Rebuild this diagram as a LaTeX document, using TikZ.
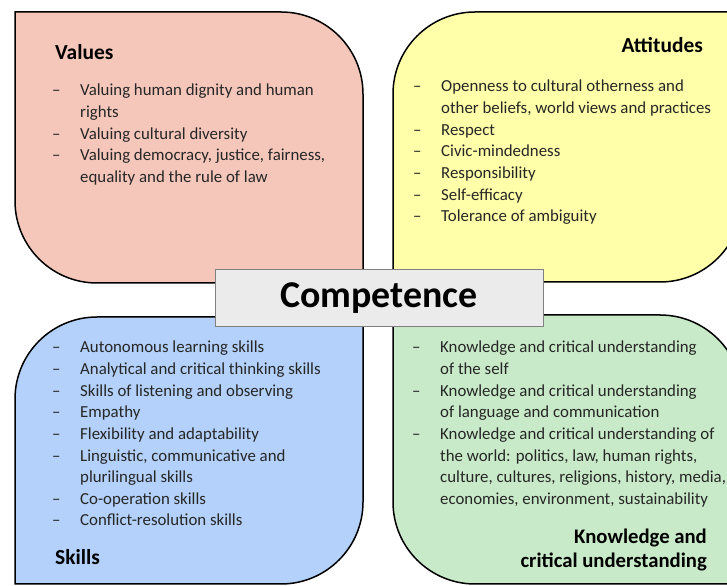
\documentclass[tikz,border=0pt]{standalone}
\usepackage{fontspec}
\setmainfont{Carlito}
\usepackage{tikz}
\usetikzlibrary{positioning}
\definecolor{valuespink}{HTML}{F5C7BB}
\definecolor{attyellow}{HTML}{FFFFAA}
\definecolor{skillsblue}{HTML}{B3D1FA}
\definecolor{knowgreen}{HTML}{C8EAC8}
\definecolor{compgray}{HTML}{EBEBEB}
\tikzstyle{quadrant} = [draw, line width = 1.5bp]
\tikzstyle{heading} = [inner sep = 0, font = \fontsize{21.5}{25}\selectfont\bfseries]
\tikzstyle{itemlist} = [inner sep = 0, anchor = base west, text = black!85, font = \fontsize{16.9}{21.7}\selectfont]
\tikzstyle{title} = [rectangle, draw = gray, fill = compgray, line width = 1bp, minimum width = 328bp, minimum height = 57bp, font = \fontsize{38}{42}\selectfont\bfseries]
\newcommand{\dashlist}[1]{\begin{tabular}[t]{@{}p{28bp}@{}l@{}}#1\end{tabular}}

\begin{document}
\begin{tikzpicture}[x = 1bp, y = 1bp]
			\useasboundingbox (0, 0) rectangle (727, 586);
			\clip (0, 0) rectangle (727, 586);
			% Quadrants
			\path [quadrant, fill = valuespink] (15, 574) -- (281, 574) arc [start angle = 90, end angle = 0, radius = 82] -- (363, 303) -- (97, 303) arc [start angle = 270, end angle = 180, radius = 82] -- cycle;
			\path [quadrant, fill = attyellow] (393, 304) -- (393, 492) arc [start angle = 180, end angle = 90, radius = 82] -- (742, 574) -- (742, 386) arc [start angle = 0, end angle = -90, radius = 82] -- cycle;
			\path [quadrant, fill = skillsblue] (15, 2) -- (15, 187) arc [start angle = 180, end angle = 90, radius = 82] -- (363, 269) -- (363, 84) arc [start angle = 0, end angle = -90, radius = 82] -- cycle;
			\path [quadrant, fill = knowgreen] (393, 271) -- (660, 271) arc [start angle = 90, end angle = 0, radius = 82] -- (742, 2) -- (475, 2) arc [start angle = 270, end angle = 180, radius = 82] -- cycle;
			
			% Headings
			\node [heading, anchor = base west] (values) at (55, 526) {Values};
			\node [heading, anchor = base east] (attitudes) at (703, 533) {Attitudes};
			\node [heading, anchor = base west] (skills) at (55, 21) {Skills};
			\node [heading, anchor = base east, align = right, font = \fontsize{20.8}{24.5}\selectfont\bfseries] (knowledge) at (707, 18) {Knowledge and\\critical understanding};
			
			% Lists
			\node [itemlist] (valueslist) at (52, 490) {\dashlist{
				-- & Valuing human dignity and human\\
				   & rights\\
				-- & Valuing cultural diversity\\
				-- & Valuing democracy, justice, fairness,\\
				   & equality and the rule of law}};
			\node [itemlist] (attitudeslist) at (413, 494) {\dashlist{
				-- & Openness to cultural otherness and\\
				   & other beliefs, world views and practices\\
				-- & Respect\\
				-- & Civic-mindedness\\
				-- & Responsibility\\
				-- & Self-efficacy\\
				-- & Tolerance of ambiguity}};
			\node [itemlist] (skillslist) at (52, 233) {\dashlist{
				-- & Autonomous learning skills\\
				-- & Analytical and critical thinking skills\\
				-- & Skills of listening and observing\\
				-- & Empathy\\
				-- & Flexibility and adaptability\\
				-- & Linguistic, communicative and\\
				   & plurilingual skills\\
				-- & Co-operation skills\\
				-- & Conflict-resolution skills}};
			\node [itemlist] (knowledgelist) at (412, 233) {\dashlist{
				-- & Knowledge and critical understanding\\
				   & of the self\\
				-- & Knowledge and critical understanding\\
				   & of language and communication\\
				-- & Knowledge and critical understanding of\\
				   & the world: politics, law, human rights,\\
				   & culture, cultures, religions, history, media,\\
				   & economies, environment, sustainability}};
			
			% Centre
			\node [title] (competence) at (379, 287.5) {Competence};
		\end{tikzpicture}
\end{document}
